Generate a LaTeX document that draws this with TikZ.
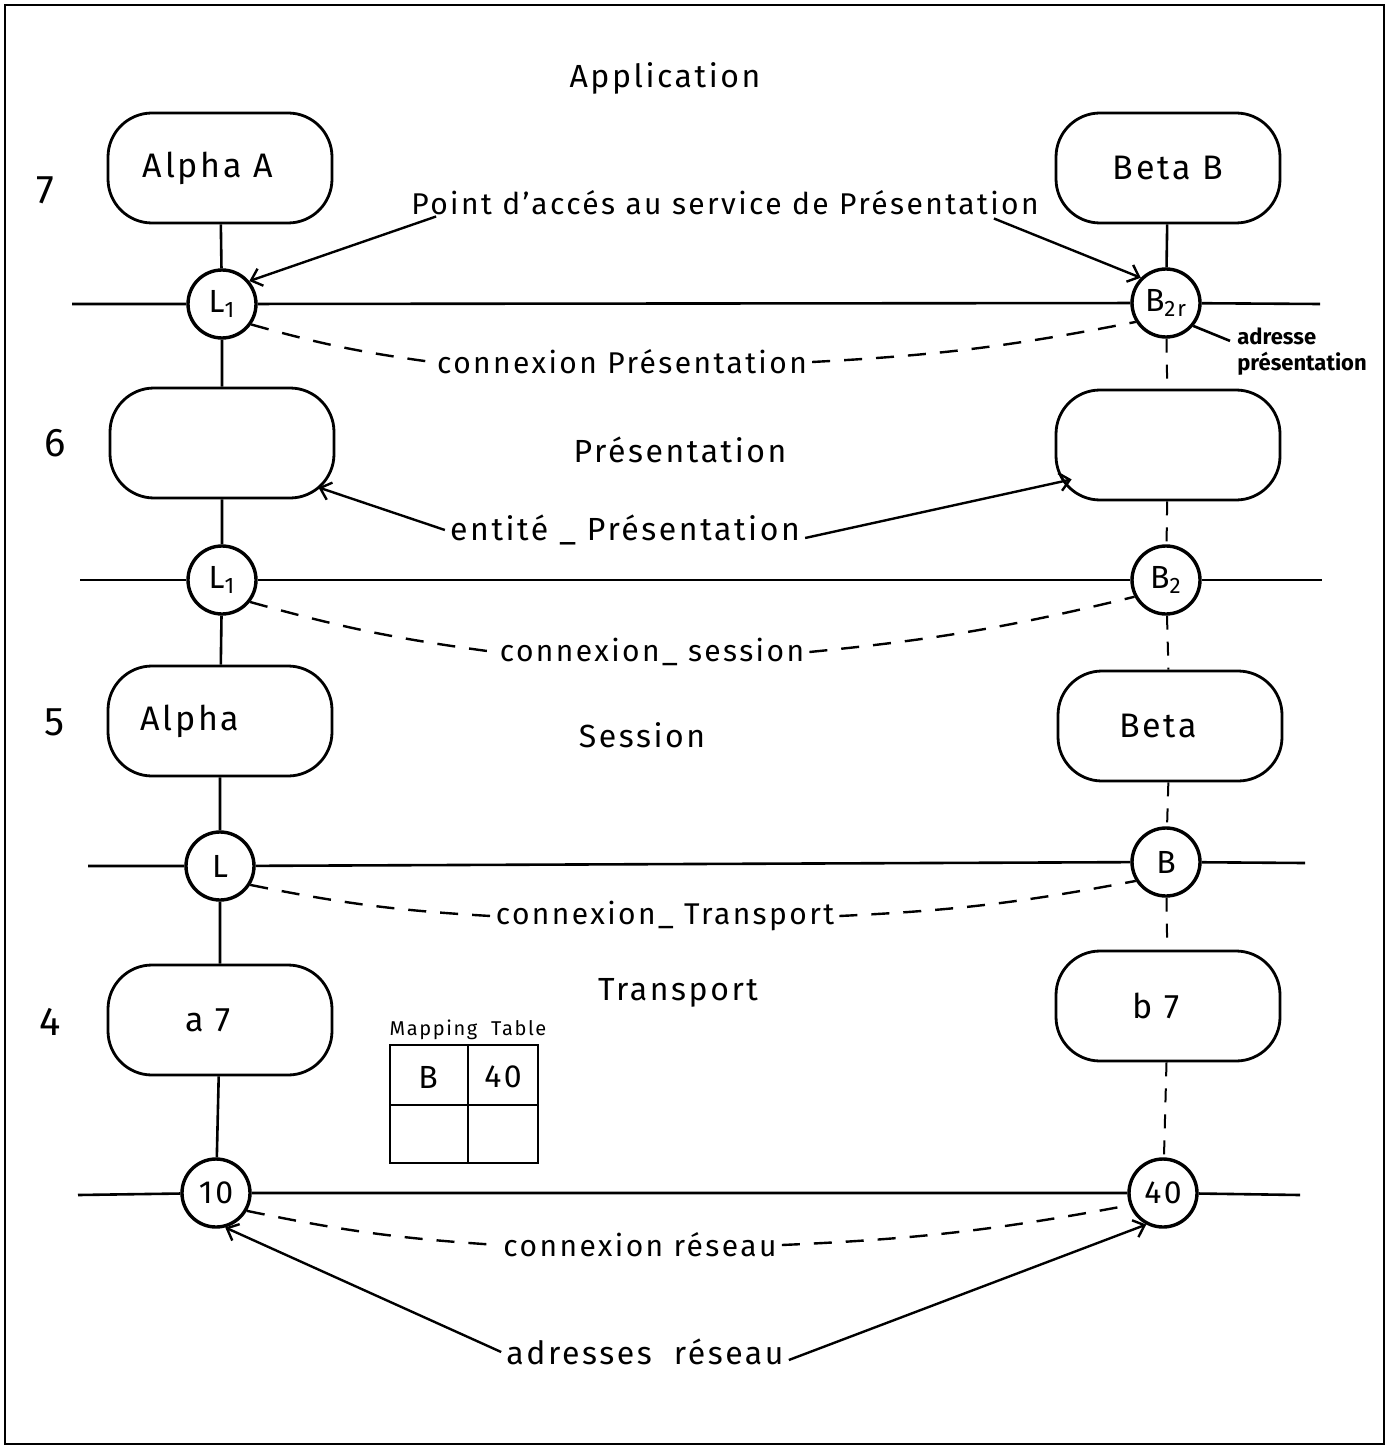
\documentclass[tikz,border=0pt]{standalone}
\usepackage{fontspec}
\setmainfont{Fira Sans}[LetterSpace=8]
\usetikzlibrary{arrows.meta,calc}
\begin{document}
\begin{tikzpicture}[x=0.5pt,y=-0.5pt,
  line width=1.3pt,
  layerbox/.style={draw, line width=1.4pt, rounded corners=22pt,
    minimum width=112pt, minimum height=55pt, inner sep=0pt,
    font=\fontsize{17}{20}\selectfont},
  sap/.style={draw, circle, line width=1.7pt, minimum size=34pt,
    inner sep=0pt, font=\fontsize{16}{18}\selectfont},
  title/.style={font=\fontsize{16}{20}\selectfont},
  num/.style={font=\fontsize{20}{22}\selectfont},
  lbl/.style={font=\fontsize{15}{17}\selectfont, inner sep=2pt},
  conn/.style={dash pattern=on 9pt off 7pt, line width=1.2pt},
  pile/.style={dash pattern=on 7pt off 6pt, line width=1pt},
  arr/.style={-{Straight Barb[length=5pt,width=9pt]}, line width=1.2pt}
]
\useasboundingbox (0,0) rectangle (1389,1449);
\draw[line width=1pt] (5,5) rectangle (1384,1444);

% layer titles and numbers
\node[title] (tApp) at (665,78) {Application};
\node[title] (tPres) at (680,450) {Présentation};
\node[title] (tSes) at (642,735) {Session};
\node[title] (tTra) at (678,993) {Transport};
\node[num] (n7) at (45,190) {7};
\node[num] (n6) at (55,443) {6};
\node[num] (n5) at (55,722) {5};
\node[num] (n4) at (50,1022) {4};

% entities of each layer
\node[layerbox] (alphaA) at (220,168) {\hspace*{-12pt}Alpha A};
\node[layerbox] (betaB) at (1168,168) {Beta B};
\node[layerbox] (presL) at (222,443) {};
\node[layerbox] (presR) at (1168,445) {};
\node[layerbox] (alpha) at (220,721) {\hspace*{-30pt}Alpha};
\node[layerbox] (beta) at (1170,726) {\hspace*{-12pt}Beta};
\node[layerbox] (a7) at (220,1020) {\hspace*{-12pt}a 7};
\node[layerbox] (b7) at (1168,1006) {\hspace*{-12pt}b 7};

% service access points
\node[sap, fill=white] (L1a) at (222,304) {L\textsubscript{1}};
\node[sap, fill=white] (B2r) at (1166,303) {B\textsubscript{2r}};
\node[sap, fill=white] (L1b) at (222,580) {L\textsubscript{1}};
\node[sap, fill=white] (B2) at (1166,580) {B\textsubscript{2}};
\node[sap, fill=white] (L) at (220,866) {L};
\node[sap, fill=white] (B) at (1166,862) {B};
\node[sap, fill=white] (n10) at (216,1193) {10};
\node[sap, fill=white] (n40) at (1163,1193) {40};

% layer boundaries
\coordinate (h1w) at (72,304);  \coordinate (h1e) at (1320,304);
\coordinate (h2w) at (80,580);  \coordinate (h2e) at (1322,580);
\coordinate (h3w) at (88,866);  \coordinate (h3e) at (1305,863);
\coordinate (h4w) at (78,1195); \coordinate (h4e) at (1300,1195);
\draw (h1w) -- (L1a) -- (B2r) -- (h1e);
\draw (h2w) -- (L1b) -- (B2) -- (h2e);
\draw (h3w) -- (L) -- (B) -- (h3e);
\draw (h4w) -- (n10) -- (n40) -- (h4e);

% vertical stacks
\draw (alphaA) -- (L1a) -- (presL) -- (L1b) -- (alpha) -- (L) -- (a7) -- (n10);
\draw (betaB) -- (B2r);
\draw[pile] (B2r) -- (presR) -- (B2) -- (beta) -- (B) -- (b7) -- (n40);

% connections between peers
\node[lbl] (cPres) at (622,362) {connexion Présentation};
\draw[conn] (L1a.-35) to[bend right=4] (cPres.west);
\draw[conn] (cPres.east) to[bend right=4] (B2r.212);

\node[lbl] (cSes) at (652,652) {connexion\_ session};
\draw[conn] (L1b.-38) to[bend right=4] (cSes.west);
\draw[conn] (cSes.east) to[bend right=4] (B2.208);

\node[lbl] (cTra) at (665,916) {connexion\_ Transport};
\draw[conn] (L.-32) to[bend right=4] (cTra.west);
\draw[conn] (cTra.east) to[bend right=4] (B.212);

\node[lbl] (cRes) at (640,1245) {connexion réseau};
\draw[conn] (n10.-30) to[bend right=4] (cRes.west);
\draw[conn] (cRes.east) to[bend right=4] (n40.200);

% annotations
\node[lbl] (psap) at (725,203) {Point d'accés au service de Présentation};
\draw[arr] ([xshift=15pt,yshift=2pt]psap.south west) -- (L1a.40);
\draw[arr] ([xshift=-25pt,yshift=1pt]psap.south east) -- (B2r.135);

\node[font=\fontsize{11}{13}\selectfont\bfseries\addfontfeature{LetterSpace=0}, align=left, anchor=west, inner sep=0pt]
  (adr) at (1236,352) {adresse\\présentation};
\draw (B2r.-40) -- ([xshift=-3pt,yshift=-7pt]adr.north west);

\node[lbl, font=\fontsize{16}{18}\selectfont] (ent) at (625,530) {entité \_ Présentation};
\coordinate (presLc) at ($(presL.south east)+(-17,-12)$);
\coordinate (presRc) at ($(presR.south west)+(17,-22)$);
\draw[arr] (ent.west) -- (presLc);
\draw[arr] ([yshift=-4pt]ent.east) -- (presRc);

\node[lbl, font=\fontsize{16}{18}\selectfont] (adres) at (645,1352) {adresses \ réseau};
\draw[arr] (adres.west) -- (n10.-75);
\draw[arr] ([yshift=-4pt]adres.east) -- (n40.-118);

% mapping table
\node[font=\fontsize{10}{11}\selectfont, inner sep=0pt] (mtt) at (468,1030) {Mapping \ Table};
\draw[line width=1.2pt] (390,1045) rectangle (538,1163);
\draw[line width=1.2pt] (468,1045) -- (468,1163);
\draw[line width=1.2pt] (390,1105) -- (538,1105);
\node[font=\fontsize{16}{18}\selectfont] (mB) at (428,1077) {B};
\node[font=\fontsize{16}{18}\selectfont] (m40) at (503,1077) {40};
\end{tikzpicture}
\end{document}
